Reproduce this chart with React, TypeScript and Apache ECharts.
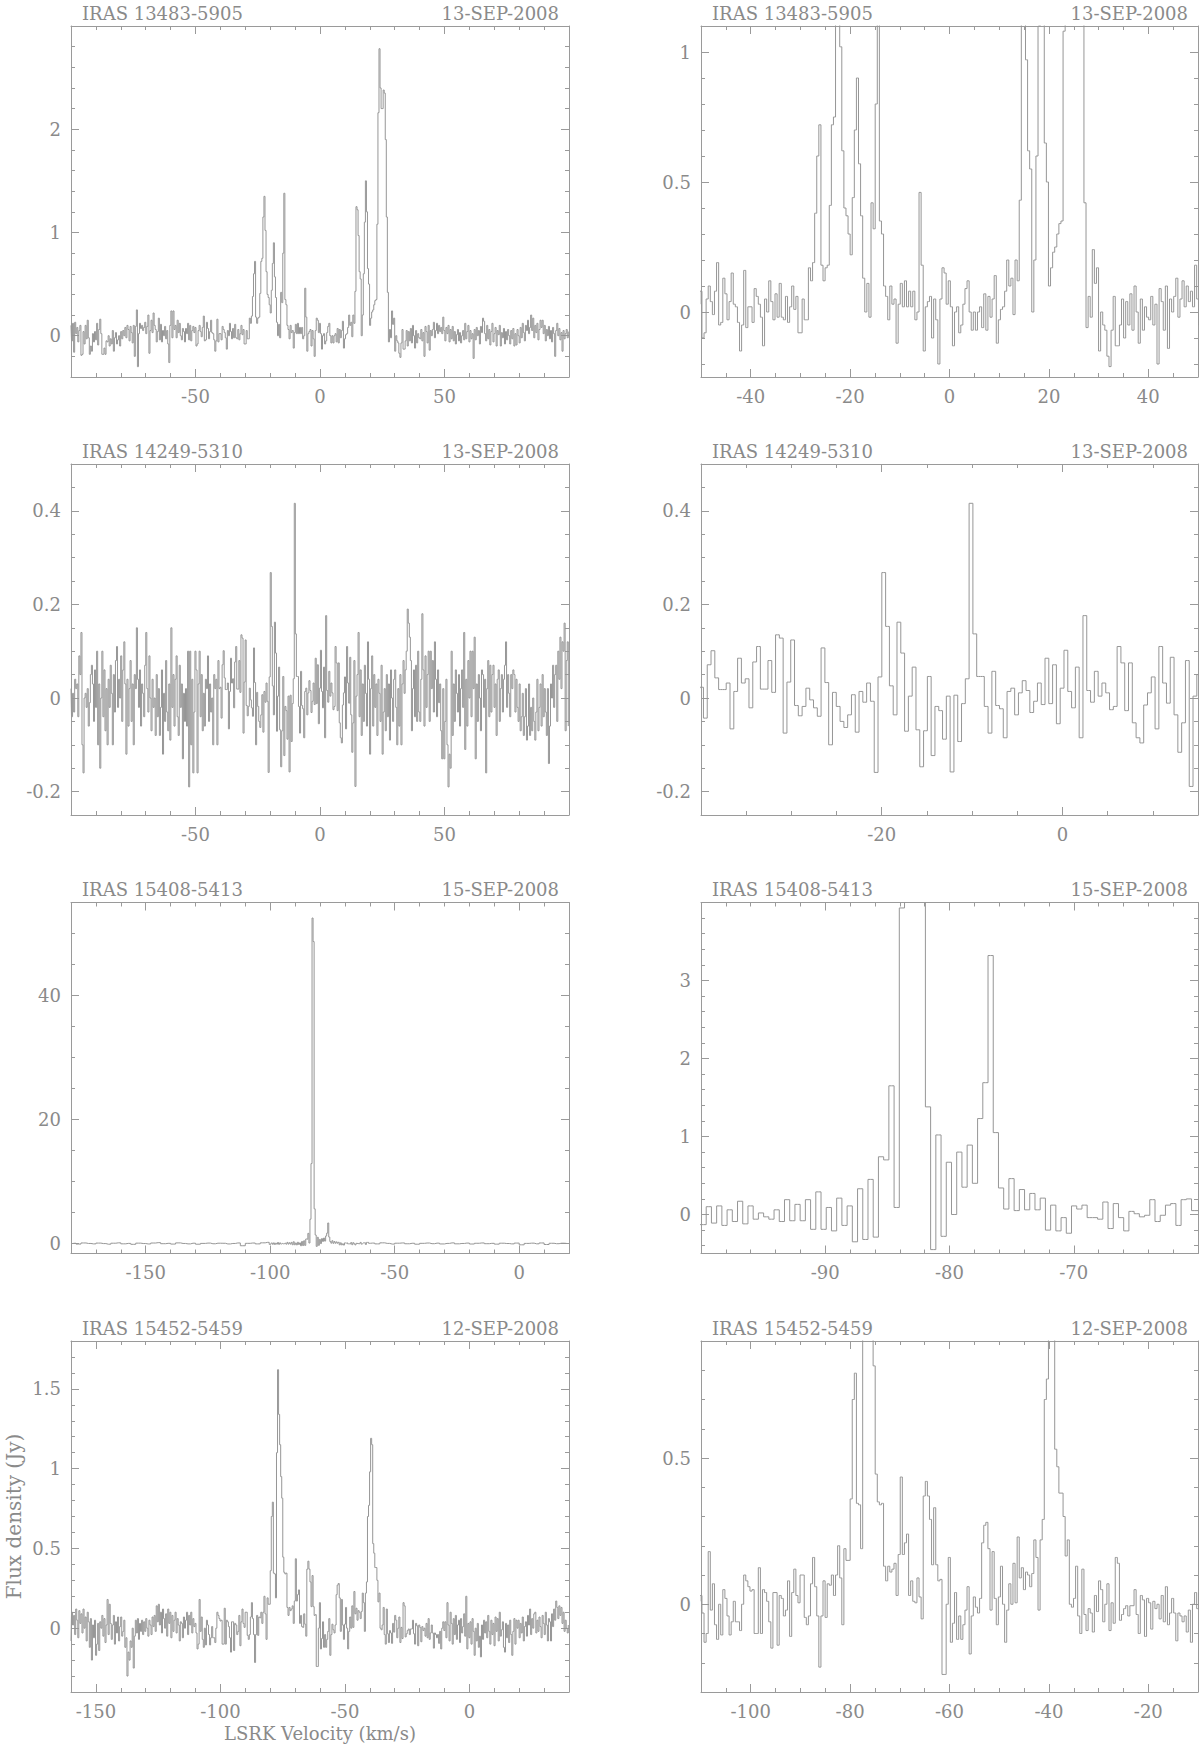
import React, { useEffect, useRef } from "react";
import * as echarts from "echarts";

// Channel width of every spectrum (km/s)
const DV = 0.42;

// IRAS 13483-5905 : channels from -100 km/s
const s1Start = -100;
const s1Flux = [
  0.10, -0.05, 0.12, -0.16, 0.13, 0.02, 0.08, -0.06, 0.05, 0.10,
  -0.19, -0.18, 0.04, -0.08, 0.10, -0.03, 0.15, -0.02, -0.18, -0.10,
  -0.15, 0.02, -0.06, 0.04, -0.04, 0.12, -0.09, 0.06, 0.16, 0.02,
  -0.18, -0.18, -0.12, -0.18, -0.05, -0.06, 0.00, -0.10, -0.03, -0.08,
  0.05, -0.15, -0.02, 0.03, -0.08, -0.04, 0.00, -0.10, 0.04, -0.03,
  0.05, 0.00, 0.08, -0.02, 0.10, 0.06, -0.05, 0.09, 0.03, -0.07,
  0.10, -0.20, 0.09, 0.25, -0.30, 0.02, 0.12, 0.07, 0.10, 0.05,
  0.08, 0.13, 0.02, 0.09, 0.20, -0.17, 0.05, 0.15, 0.03, 0.22,
  0.10, 0.06, -0.06, 0.04, 0.17, -0.04, 0.11, -0.06, 0.05, 0.00,
  0.09, -0.03, 0.05, -0.08, -0.26, 0.10, 0.24, -0.02, 0.24, 0.06,
  0.10, -0.02, 0.15, 0.03, 0.12, 0.00, -0.04, 0.07, 0.04, -0.06,
  0.07, 0.02, 0.12, -0.04, 0.10, -0.05, 0.05, 0.09, 0.03, 0.08,
  -0.10, -0.08, 0.05, 0.10, 0.04, -0.01, 0.08, 0.19, -0.05, -0.04,
  0.13, 0.07, -0.03, 0.04, 0.15, 0.03, 0.02, -0.04, -0.15, -0.05,
  0.16, -0.06, 0.02, 0.02, -0.04, 0.09, 0.06, 0.03, -0.02, -0.13,
  0.05, 0.00, 0.12, 0.04, -0.03, 0.07, -0.02, 0.11, -0.02, -0.03,
  0.06, -0.04, 0.02, 0.10, 0.01, 0.06, -0.08, -0.08, 0.05, -0.03,
  -0.03, 0.17, 0.12, 0.19, 0.38, 0.60, 0.72, 0.18, 0.12, 0.17,
  0.18, 0.41, 0.72, 0.75, 1.15, 1.35, 1.02, 0.62, 0.40, 0.37,
  0.30, 0.22, 0.44, 0.70, 0.90, 0.57, 0.37, 0.13, 0.00, 0.11,
  -0.02, 0.42, 0.32, 0.80, 1.38, 0.35, 0.30, 0.10, 0.06, -0.03,
  0.10, 0.03, 0.05, -0.12, 0.03, 0.11, 0.02, 0.12, 0.02, 0.08,
  0.02, 0.08, -0.03, 0.00, 0.46, 0.18, -0.15, 0.02, 0.04, 0.06,
  -0.10, 0.05, -0.03, -0.20, 0.05, 0.17, 0.15, 0.03, 0.12, 0.02,
  -0.13, 0.00, 0.02, -0.08, -0.05, 0.03, 0.09, 0.12, 0.00, -0.07,
  0.00, -0.07, 0.00, 0.02, -0.06, 0.07, -0.07, 0.06, -0.02, 0.05,
  0.14, -0.12, -0.03, 0.01, 0.02, 0.08, 0.20, 0.10, 0.13, -0.01,
  0.20, 0.12, 0.43, 1.25, 1.22, 0.97, 0.62, 0.55, 0.00, 0.20,
  0.60, 1.10, 1.50, 1.20, 0.65, 0.50, 0.10, 0.17, 0.23, 0.25,
  0.30, 0.34, 0.35, 1.08, 2.16, 2.78, 2.40, 2.20, 2.20, 2.38,
  2.35, 1.90, 1.15, 0.42, -0.06, 0.06, -0.02, 0.24, 0.11, 0.17,
  -0.15, 0.00, -0.05, -0.07, -0.17, -0.21, -0.07, 0.06, -0.13, -0.13,
  -0.05, 0.05, -0.10, 0.04, -0.05, 0.07, -0.07, 0.10, 0.00, -0.12,
  0.05, -0.07, 0.02, -0.02, -0.03, 0.06, -0.05, 0.03, -0.20, 0.09,
  0.04, -0.07, 0.10, -0.14, 0.05, 0.00, 0.06, 0.13, -0.02, 0.05,
  0.12, 0.02, 0.10, 0.04, 0.08, 0.02, 0.18, 0.05, -0.05, 0.08,
  0.02, 0.10, -0.06, 0.06, -0.03, 0.09, -0.05, 0.04, -0.08, 0.01,
  0.06, -0.05, 0.03, -0.07, 0.00, 0.05, -0.04, 0.12, -0.03, 0.04,
  0.10, -0.06, 0.05, -0.03, 0.02, -0.22, 0.06, -0.04, 0.08, 0.00,
  0.05, -0.08, 0.09, 0.03, 0.17, 0.14, 0.02, -0.05, 0.10, -0.03,
  0.06, -0.09, 0.04, 0.12, -0.06, 0.02, 0.08, -0.10, 0.05, 0.01,
  0.10, -0.10, 0.03, -0.02, 0.07, -0.08, 0.04, -0.04, 0.06, 0.00,
  -0.08, 0.05, -0.03, 0.07, -0.10, 0.02, -0.09, 0.06, 0.00, -0.07,
  0.08, -0.02, 0.12, 0.03, -0.05, 0.10, 0.05, 0.15, 0.02, 0.08,
  0.20, 0.05, 0.17, -0.02, 0.10, 0.03, 0.12, -0.04, 0.06, 0.15,
  0.08, 0.15, 0.02, 0.10, -0.05, 0.06, 0.00, 0.09, -0.03, 0.05,
  -0.06, 0.08, 0.02, -0.20, 0.05, 0.12, 0.00, 0.07, -0.04, 0.03,
  -0.15, 0.05, -0.03, 0.02, 0.06, -0.02, 0.04,
];

// IRAS 14249-5310 : channels from -100 km/s
const s2Start = -100;
const s2Flux = [
  0.02, -0.04, 0.01, -0.03, 0.04, 0.02, 0.03, -0.04, 0.09, 0.05,
  0.14, -0.10, -0.16, 0.00, 0.01, -0.02, 0.02, -0.06, -0.01, 0.05,
  0.07, 0.03, -0.05, 0.06, -0.02, 0.10, -0.10, 0.03, -0.15, 0.00,
  0.10, -0.04, 0.06, -0.07, 0.02, -0.10, 0.04, -0.02, 0.07, 0.01,
  -0.10, 0.05, -0.03, 0.08, 0.11, -0.02, 0.04, 0.00, 0.09, -0.05,
  0.06, 0.12, 0.03, -0.12, 0.04, -0.06, 0.02, 0.08, -0.05, 0.03,
  -0.10, 0.05, 0.02, 0.15, 0.04, -0.02, 0.06, -0.06, 0.03, 0.01,
  -0.04, 0.07, 0.14, 0.02, -0.03, 0.09, 0.00, -0.07, 0.04, -0.02,
  0.00, -0.08, 0.05, -0.04, 0.02, -0.08, -0.02, 0.06, -0.12, 0.01,
  -0.05, 0.08, -0.03, -0.07, 0.03, -0.09, 0.15, -0.02, 0.05, -0.06,
  0.04, 0.09, -0.04, -0.08, 0.07, -0.02, 0.03, -0.13, 0.01, -0.05,
  0.02, -0.06, 0.10, -0.19, 0.10, -0.10, 0.04, -0.16, -0.03, 0.10,
  0.06, -0.16, 0.03, 0.10, -0.04, 0.05, -0.07, 0.01, -0.06, 0.04,
  0.02, 0.09, -0.05, 0.03, -0.03, 0.00, -0.10, 0.05, 0.02, 0.04,
  -0.10, 0.08, 0.02,
  0.023, -0.043, 0.071, 0.101, 0.043, 0.018, 0.018, 0.032, -0.066, 0.014,
  0.085, 0.032, 0.041, -0.021, 0.077, 0.110, 0.019, 0.019, 0.080, 0.012,
  0.135, 0.128, -0.075, 0.034, 0.124, -0.016, -0.038, -0.018, 0.021, -0.004,
  -0.021, -0.039, 0.107, 0.033, -0.100, 0.012, -0.018, -0.050, -0.063, -0.036,
  0.007, -0.073, 0.014, -0.009, 0.032, -0.007, -0.159, 0.045, 0.268, 0.153,
  0.026, -0.036, 0.162, 0.096, -0.071, 0.004, 0.066, -0.068, -0.147, -0.070,
  0.046, -0.123, -0.018, -0.027, -0.088, 0.004, -0.158, 0.006, -0.093, -0.012,
  0.041, 0.416, 0.137, 0.046, 0.046, -0.018, -0.075, 0.057, -0.016, -0.023,
  -0.085, 0.014, 0.021, -0.036, 0.011, 0.037, 0.016, -0.031, -0.007, 0.032,
  -0.014, 0.085, -0.012, 0.071, -0.055, 0.021, 0.102, 0.014, -0.021, 0.066,
  -0.085, 0.176, 0.016, -0.009, 0.057, 0.004, 0.032, 0.011, -0.025, -0.018,
  0.110, 0.075, -0.027, 0.075, -0.053, -0.085, -0.096, -0.015, 0.011, 0.045,
  -0.066, 0.110, 0.032, -0.011, 0.087, -0.036, -0.116, -0.053, 0.080, -0.189,
  0.004,
  0.05, 0.14, -0.04, 0.06, -0.08, 0.03, -0.05, 0.07, 0.01, -0.06,
  0.12, 0.04, -0.12, 0.02, 0.09, -0.06, 0.05, -0.02, 0.03, -0.08,
  0.04, 0.01, -0.05, 0.07, -0.12, -0.03, 0.02, -0.07, 0.05, -0.04,
  0.03, -0.09, 0.06, 0.00, -0.05, 0.04, 0.06, -0.02, -0.10, 0.02,
  -0.06, 0.05, -0.10, 0.03, 0.08, 0.01, 0.06, 0.10, 0.19, 0.16,
  0.13, 0.08, -0.07, 0.02, 0.06, -0.04, 0.07, -0.05, 0.10, -0.03,
  -0.05, 0.04, 0.18, 0.06, -0.06, 0.09, -0.02, 0.05, 0.10, -0.05,
  0.10, 0.02, 0.08, -0.03, 0.12, 0.04, -0.04, 0.06, -0.01, 0.03,
  -0.07, -0.13, 0.02, -0.13, -0.05, 0.04, -0.10, -0.19, -0.12, -0.15,
  0.10, -0.08, 0.03, -0.05, 0.06, 0.01, -0.03, 0.05, -0.06, 0.02,
  0.06, -0.02, 0.14, -0.11, 0.04, -0.06, 0.08, 0.00, 0.10, -0.04,
  0.10, 0.02, 0.13, -0.13, 0.03, -0.05, 0.05, 0.00, -0.07, 0.06,
  0.05, -0.02, 0.04, -0.16, 0.02, 0.08, -0.04, 0.07, -0.03, 0.05,
  0.07, -0.02, 0.03, -0.08, 0.04, 0.06, -0.05, 0.02, 0.05, -0.03,
  0.04, 0.07, 0.12, -0.02, 0.05, 0.01, -0.04, 0.05, 0.02, 0.06,
  0.05, -0.03, 0.04, -0.02, -0.05, 0.03, -0.07, -0.04, 0.01, -0.08,
  -0.04, 0.02, -0.09, -0.06, 0.03, -0.08, -0.02, -0.07, 0.00, -0.05,
  -0.09, -0.03, 0.04, -0.07, -0.02, 0.03, -0.06, 0.05, -0.04, 0.02,
  -0.03, -0.08, 0.02, -0.14, -0.06, 0.03, 0.00, 0.07, -0.02, 0.05,
  0.07, -0.05, 0.10, 0.04, 0.13, 0.02, 0.12, 0.10, 0.16, -0.07,
  0.08, 0.12, -0.06,
];

// IRAS 15408-5413 : fine channels around the maser, coarse baseline outside
const s3Start = -99.79;
const s3Flux = [
  -0.13, 0.10, -0.11, 0.11, -0.14, 0.06, -0.09, 0.17, -0.12, 0.11,
  -0.06, 0.02, -0.03, -0.06, 0.06, -0.09, 0.19, -0.08, 0.13, -0.08,
  0.19, -0.19, 0.29, -0.19, 0.09, -0.21, 0.21, -0.14, 0.11, -0.35,
  0.33, -0.32, 0.45, -0.29, 0.74, 0.70, 1.65, 0.09, 3.93, 12.9,
  52.5, 48.7, 5.6, 1.38, -0.45, 1.02, -0.28, 0.67, 0.00, 0.80,
  0.35, 0.89, 0.40, 1.23, 1.69, 3.32, 1.05, 0.34, 0.07, 0.46,
  0.05, 0.32, 0.06, 0.27, 0.06, 0.21, -0.20, 0.12, -0.21, -0.04,
  -0.24, 0.11, 0.07, 0.12, -0.04, -0.04, -0.06, 0.16, -0.18, 0.14,
  -0.04, -0.21, 0.04, 0.01, -0.03, -0.01, 0.19, -0.09, -0.01, 0.12,
  0.14, -0.14, 0.19, 0.20, 0.05,
];
const s3BaseStep = 2;
const s3LowStart = -179;
const s3LowFlux = [
  0.05, -0.08, 0.10, 0.02, -0.05, 0.08, 0.00, -0.10, 0.06, 0.12,
  -0.04, 0.03, -0.12, 0.07, 0.01, -0.06, 0.09, 0.15, -0.02, 0.04,
  -0.08, 0.11, 0.02, -0.05, 0.06, -0.10, 0.03, 0.08, -0.03, 0.06,
  0.05, -0.06, 0.02, 0.10, -0.35, 0.04, 0.09, -0.05, 0.12, 0.20,
];
const s3HighStart = -59;
const s3HighFlux = [
  0.08, -0.05, 0.12, 0.03, -0.08, 0.06, 0.10, -0.03, 0.05, -0.10,
  0.04, 0.09, -0.02, 0.07, -0.06, 0.03, 0.11, -0.04, 0.02, 0.08,
  -0.07, 0.05, 0.10, -0.02, 0.04, -0.09, 0.06, 0.01, -0.05, 0.08,
  -0.20, 0.03, 0.07, -0.04, 0.10, -0.15, 0.05, -0.02, 0.06, 0.03,
];

// IRAS 15452-5459 : channels from -160 km/s
const s4Start = -160;
const s4Flux = [
  -0.08, 0.10, 0.02, 0.08, -0.04, 0.12, 0.05, -0.06, 0.11, 0.03,
  0.09, -0.03, 0.12, 0.00, 0.07, -0.08, 0.10, 0.04, -0.12, 0.06,
  -0.20, 0.02, -0.06, 0.05, -0.17, -0.10, 0.03, -0.14, 0.04, 0.00,
  0.08, -0.05, 0.06, -0.09, 0.02, 0.18, -0.04, 0.15, 0.03, -0.07,
  0.02, 0.08, -0.10, 0.04, -0.03, 0.07, -0.08, 0.01, 0.07, -0.05,
  -0.02, 0.05, -0.12, -0.06, -0.30, -0.15, -0.20, -0.08, -0.12, 0.00,
  -0.25, -0.05, 0.05, -0.03, 0.06, -0.07, 0.03, -0.02, 0.05, -0.04,
  0.04, -0.02, 0.06, 0.00, -0.05, 0.05, 0.02, -0.04, 0.07, 0.01,
  0.08, -0.02, 0.14, 0.04, 0.15, 0.02, 0.10, -0.03, 0.12, 0.06,
  0.00, 0.09, -0.05, 0.12, 0.03, 0.10, -0.06, 0.08, -0.02, 0.05,
  0.10, -0.03, 0.06, 0.02, -0.08, 0.04, 0.03, -0.06, 0.07, 0.00,
  0.05, 0.10, -0.04, 0.08, 0.02, 0.10, -0.03, 0.06, 0.01,
  0.03, -0.03, -0.13, -0.10, 0.18, -0.02, 0.07, -0.07, -0.12, 0.00,
  -0.105, 0.05, 0.02, -0.04, -0.105, -0.06, 0.01, -0.06, -0.06, -0.09,
  0.00, 0.10, 0.08, 0.06, 0.045, 0.05, -0.10, -0.10, 0.125, -0.10,
  0.05, 0.04, 0.01, -0.06, -0.15, 0.04, 0.04, -0.14, 0.03, 0.02,
  -0.04, -0.02, 0.08, -0.11, 0.04, 0.12, 0.03, 0.005, 0.10, 0.10,
  -0.045, -0.07, -0.04, 0.07, 0.16, 0.06, -0.04, -0.215, -0.04, 0.08,
  -0.045, 0.07, 0.065, 0.10, 0.03, 0.10, 0.20, 0.09, -0.07, 0.19,
  0.15, 0.15, 0.36, 0.70, 0.79, 0.345, 0.34, 0.19, 1.10, 1.62,
  1.34, 1.15, 0.95, 0.815, 0.445, 0.35, 0.34, 0.345, 0.13, 0.08,
  0.13, 0.11, 0.12, 0.14, 0.03, 0.17, 0.435, 0.17, 0.21, 0.24,
  0.03, 0.08, 0.01, 0.005, 0.09, 0.025, -0.05, 0.37, 0.42, 0.37,
  0.29, 0.135, 0.33, 0.135, 0.08, 0.085, -0.24, -0.24, 0.00,
  0.16, -0.13, -0.065, 0.04, -0.12, -0.04, -0.12, -0.07, -0.02, 0.06,
  -0.17, -0.04, 0.025, -0.01, -0.03, 0.02, 0.21, 0.27, 0.28, 0.19,
  -0.02, 0.18, 0.02, -0.07, 0.025, 0.13, 0.00, -0.13, -0.02, 0.07,
  0.00, 0.14, 0.005, 0.23, 0.09, 0.125, 0.05, 0.11, 0.10, 0.06,
  0.105, 0.22, 0.16, -0.02, 0.22, 0.29, 0.70, 0.77, 0.98, 1.19,
  1.15,
  0.53, 0.47, 0.38, 0.38, 0.30, 0.165, 0.22, 0.00, -0.01, 0.02,
  0.13, -0.04, -0.10, 0.12, -0.035, -0.09, -0.015, -0.03, -0.095, 0.03,
  -0.025, 0.08, 0.05, -0.06, 0.00, 0.07, -0.09, 0.005, -0.065, 0.16,
  0.14, -0.055, -0.035, -0.015, -0.005, -0.04, -0.005, -0.005, 0.05, -0.035,
  -0.10, 0.03, 0.015, -0.11, 0.02, 0.005, -0.085, 0.01, -0.015, 0.00,
  -0.05, 0.03, -0.06, 0.06, -0.07, -0.03, 0.02, -0.03, -0.125, -0.03,
  -0.04, -0.06, -0.04, -0.095, -0.02, -0.13, 0.00, 0.04, -0.015,
  0.04, -0.06, 0.16, 0.02, -0.08, 0.10, 0.03, -0.10, 0.06, -0.04,
  0.08, -0.07, 0.02, 0.05, -0.09, 0.06, -0.03, 0.01, 0.09, -0.05,
  0.20, -0.13, 0.03, -0.06, 0.04, -0.10, 0.06, -0.02, -0.17, 0.00,
  -0.08, 0.03, -0.12, -0.05, -0.18, 0.02, -0.07, 0.05, -0.03, 0.04,
  -0.06, 0.08, -0.02, -0.10, 0.05, -0.04, 0.03, -0.11, 0.07, -0.02,
  0.06, -0.08, 0.10, -0.05, -0.01, 0.04, -0.12, -0.15, 0.03, -0.06,
  0.02, -0.09, 0.05, -0.04, -0.17, -0.02, 0.06, -0.10, 0.05, 0.00,
  0.05, -0.06, 0.03, -0.03, 0.07, -0.08, 0.01, 0.04, -0.05, 0.08,
  0.02, 0.12, -0.04, 0.06, 0.00, 0.09, 0.10, -0.03, 0.05, -0.02,
  0.07, 0.01, -0.06, 0.08, 0.03, -0.04, 0.10, 0.02, -0.08, 0.06,
  0.04, -0.08, 0.09, 0.01, 0.12, 0.05, 0.17, 0.13, 0.06, 0.14,
  0.08, 0.13, 0.03, 0.10, -0.02, 0.05, 0.00, -0.03, 0.02,
];

const sourceNames = ["IRAS 13483-5905", "IRAS 14249-5310", "IRAS 15408-5413", "IRAS 15452-5459"];
const obsDates = ["13-SEP-2008", "13-SEP-2008", "15-SEP-2008", "12-SEP-2008"];

// axis ranges of the eight panels (left: full band, right: zoom)
const panelSource = [0, 0, 1, 1, 2, 2, 3, 3];
const xMins = [-100, -50, -100, -40, -180, -100, -160, -110];
const xMaxs = [100, 50, 100, 15, 20, -60, 40, -10];
const xMajors = [50, 20, 50, 20, 50, 10, 50, 20];
const xMinors = [10, 5, 10, 5, 10, 2, 10, 5];
const yMins = [-0.4, -0.25, -0.25, -0.25, -1.6, -0.5, -0.4, -0.3];
const yMaxs = [3.0, 1.1, 0.5, 0.5, 55, 4.0, 1.8, 0.9];
const yMajors = [1, 0.5, 0.2, 0.2, 20, 1, 0.5, 0.5];
const yMinors = [0.2, 0.1, 0.05, 0.05, 5, 0.2, 0.1, 0.1];

const xAxisTitle = "LSRK Velocity (km/s)";
const yAxisTitle = "Flux density (Jy)";

function channels(start: number, step: number, flux: number[]) {
  return flux.map((f, i) => [Math.round((start + i * step) * 1000) / 1000, f]);
}

function tickValues(min: number, max: number, step: number) {
  const out: number[] = [];
  const k0 = Math.ceil(min / step - 1e-9);
  const k1 = Math.floor(max / step + 1e-9);
  for (let k = k0; k <= k1; k++) out.push(+(k * step).toFixed(6));
  return out;
}

const GREY = "#969696";
const AXIS = "#9a9a9a";
const TEXT = "#8a8a8a";
const FONT = "DejaVu Serif";

export default function App() {
  const ref = useRef<HTMLDivElement>(null);
  useEffect(() => {
    document.body.style.margin = "0";
    if (!ref.current) return;
    const chart = echarts.init(ref.current, undefined, { renderer: "svg" });

    const sourceData = [
      channels(s1Start, DV, s1Flux),
      channels(s2Start, DV, s2Flux),
      [
        ...channels(s3LowStart, s3BaseStep, s3LowFlux),
        ...channels(s3Start, DV, s3Flux),
        ...channels(s3HighStart, s3BaseStep, s3HighFlux),
      ],
      channels(s4Start, DV, s4Flux),
    ];

    const colX = [71, 701];
    const colW = [498, 497];
    const rowY = [26, 464, 902.5, 1341];
    const rowH = 351;

    const grids: any[] = [];
    const xAxes: any[] = [];
    const yAxes: any[] = [];
    const series: any[] = [];
    const graphics: any[] = [];

    const fmt = (v: number) => String(+(+v).toFixed(4));
    const labelStyle = { color: TEXT, fontFamily: FONT, fontSize: 18 };

    const axis = (
      gridIndex: number,
      position: string,
      min: number,
      max: number,
      ticks: number[],
      len: number,
      line: boolean,
      labels: number[] | null
    ) => ({
      type: "value",
      gridIndex,
      position,
      min,
      max,
      axisLine: { show: line, onZero: false, lineStyle: { color: AXIS, width: 1 } },
      axisTick: { show: true, inside: true, length: len, customValues: ticks, lineStyle: { color: AXIS, width: 1 } },
      axisLabel: labels
        ? { show: true, customValues: labels, formatter: fmt, margin: 10, ...labelStyle }
        : { show: false },
      splitLine: { show: false },
      minorTick: { show: false },
    });

    for (let p = 0; p < 8; p++) {
      const r = Math.floor(p / 2);
      const c = p % 2;
      const rect = { left: colX[c], top: rowY[r], width: colW[c], height: rowH };
      grids.push({ ...rect }, { ...rect });
      const gA = 2 * p;
      const gB = 2 * p + 1;
      const xmin = xMins[p], xmax = xMaxs[p], ymin = yMins[p], ymax = yMaxs[p];
      const xMinorT = tickValues(xmin, xmax, xMinors[p]);
      const xMajorT = tickValues(xmin, xmax, xMajors[p]);
      const yMinorT = tickValues(ymin, ymax, yMinors[p]);
      const yMajorT = tickValues(ymin, ymax, yMajors[p]);
      const xLab = xMajorT.filter((v) => v > xmin + 1e-9 && v < xmax - 1e-9);
      const yLab = yMajorT.filter((v) => v > ymin + 1e-9 && v < ymax - 1e-9);

      xAxes.push(
        axis(gA, "bottom", xmin, xmax, xMinorT, 4, true, null),
        axis(gA, "top", xmin, xmax, xMinorT, 4, true, null),
        axis(gB, "bottom", xmin, xmax, xMajorT, 8, false, xLab),
        axis(gB, "top", xmin, xmax, xMajorT, 8, false, null)
      );
      yAxes.push(
        axis(gA, "left", ymin, ymax, yMinorT, 4, true, null),
        axis(gA, "right", ymin, ymax, yMinorT, 4, true, null),
        axis(gB, "left", ymin, ymax, yMajorT, 8, false, yLab),
        axis(gB, "right", ymin, ymax, yMajorT, 8, false, null)
      );

      series.push({
        type: "line",
        step: "middle",
        xAxisIndex: 4 * p,
        yAxisIndex: 4 * p,
        data: sourceData[panelSource[p]],
        showSymbol: false,
        symbol: "none",
        clip: true,
        lineStyle: { color: GREY, width: 1 },
        silent: true,
      });

      graphics.push(
        {
          type: "text",
          x: colX[c] + 11,
          y: rowY[r] - 13,
          style: {
            text: sourceNames[panelSource[p]],
            fill: TEXT,
            fontFamily: FONT,
            fontSize: 18,
            align: "left",
            verticalAlign: "middle",
          },
        },
        {
          type: "text",
          x: colX[c] + colW[c] - 10,
          y: rowY[r] - 13,
          style: {
            text: obsDates[panelSource[p]],
            fill: TEXT,
            fontFamily: FONT,
            fontSize: 18,
            align: "right",
            verticalAlign: "middle",
          },
        }
      );
    }

    graphics.push(
      {
        type: "text",
        x: colX[0] + colW[0] / 2,
        y: 1733,
        style: { text: xAxisTitle, fill: TEXT, fontFamily: FONT, fontSize: 18, align: "center", verticalAlign: "middle" },
      },
      {
        type: "text",
        x: 14,
        y: rowY[3] + rowH / 2,
        rotation: Math.PI / 2,
        style: { text: yAxisTitle, fill: TEXT, fontFamily: FONT, fontSize: 20, align: "center", verticalAlign: "middle" },
      }
    );

    chart.setOption({
      animation: false,
      backgroundColor: "#ffffff",
      grid: grids,
      xAxis: xAxes,
      yAxis: yAxes,
      series,
      graphic: graphics,
    });

    return () => chart.dispose();
  }, []);

  return <div ref={ref} style={{ width: 1200, height: 1746 }} />;
}
